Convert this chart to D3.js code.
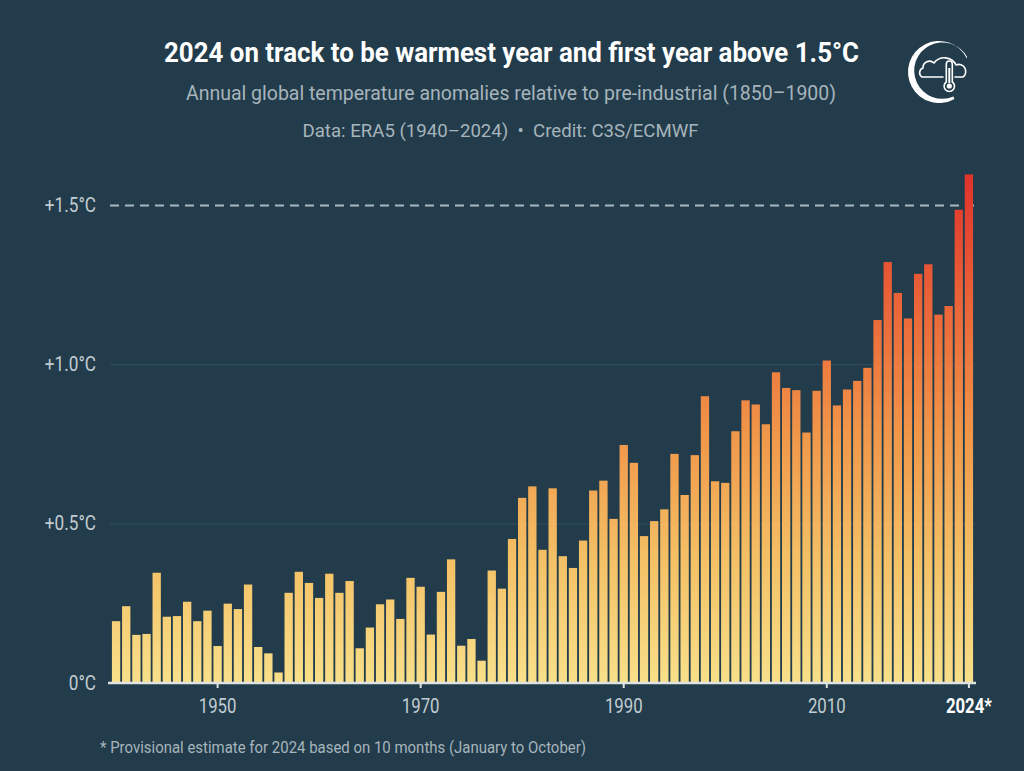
<!DOCTYPE html>
<html>
<head>
<meta charset="utf-8">
<script src="https://cdn.jsdelivr.net/npm/d3@7"></script>
<style>
  html, body { margin: 0; padding: 0; background: #223c4b; }
  svg { display: block; }
  text { font-family: Roboto, "Noto Sans", sans-serif; }
</style>
</head>
<body>
<svg id="chart" width="1024" height="771"></svg>
<script>
// ---- data ----
const years = d3.range(1940, 2025);
const anomalies = [
  0.194, 0.241, 0.151, 0.154, 0.346, 0.208, 0.210, 0.255, 0.194, 0.227,
  0.116, 0.249, 0.232, 0.309, 0.113, 0.093, 0.033, 0.283, 0.349, 0.314,
  0.267, 0.343, 0.283, 0.320, 0.109, 0.174, 0.247, 0.262, 0.201, 0.330,
  0.302, 0.152, 0.286, 0.388, 0.117, 0.138, 0.070, 0.353, 0.296, 0.452,
  0.581, 0.617, 0.418, 0.611, 0.398, 0.361, 0.447, 0.604, 0.635, 0.515,
  0.747, 0.691, 0.461, 0.508, 0.545, 0.719, 0.590, 0.715, 0.900, 0.633,
  0.628, 0.790, 0.887, 0.874, 0.812, 0.975, 0.926, 0.919, 0.786, 0.917,
  1.012, 0.871, 0.921, 0.948, 0.989, 1.139, 1.321, 1.224, 1.144, 1.284,
  1.314, 1.156, 1.183, 1.485, 1.596
];
const yTicks = [0, 0.5, 1.0, 1.5];
const yTickLabels = ["0°C", "+0.5°C", "+1.0°C", "+1.5°C"];
const xTicks = [1950, 1970, 1990, 2010, 2024];
const xTickLabels = ["1950", "1970", "1990", "2010", "2024*"];
const thresholdValue = 1.5;
const gradientValues = [0, 0.4, 0.8, 1.2, 1.6];
const gradientColors = ["#f8e08a", "#f4bf64", "#f09448", "#ea6338", "#df312c"];

const title = "2024 on track to be warmest year and first year above 1.5°C";
const subtitle = "Annual global temperature anomalies relative to pre-industrial (1850–1900)";
const credit = "Data: ERA5 (1940–2024)  •  Credit: C3S/ECMWF";
const footnote = "* Provisional estimate for 2024 based on 10 months (January to October)";

// ---- layout ----
const svg = d3.select("#chart");
const W = 1024;
const plot = { left: 111, right: 974, top: 150, bottom: 683 };

const x = d3.scaleBand().domain(years).range([plot.left, plot.right])
  .paddingInner(0.18).paddingOuter(0.09);
const y = d3.scaleLinear().domain([0, 1.5]).range([plot.bottom, 205]);

// condense helpers (mimic a condensed typeface)
function condense(sel, k) {
  sel.each(function() {
    const n = this.getComputedTextLength();
    d3.select(this).attr("textLength", n * k).attr("lengthAdjust", "spacingAndGlyphs");
  });
}
function fitWidth(sel, w) {
  sel.attr("textLength", w).attr("lengthAdjust", "spacingAndGlyphs");
}

// background
svg.append("rect").attr("width", W).attr("height", 771).attr("fill", "#223c4b");

// titles
svg.append("text").attr("x", 511.5).attr("y", 62).attr("text-anchor", "middle")
  .attr("fill", "#ffffff").attr("font-size", 28).attr("font-weight", 700)
  .text(title).call(fitWidth, 695);
svg.append("text").attr("x", 511).attr("y", 100).attr("text-anchor", "middle")
  .attr("fill", "#a7b4bc").attr("font-size", 21)
  .text(subtitle).call(fitWidth, 650);
svg.append("text").attr("x", 500.5).attr("y", 137).attr("text-anchor", "middle")
  .attr("fill", "#a7b4bc").attr("font-size", 18.5)
  .attr("xml:space", "preserve")
  .text(credit).call(fitWidth, 396);

// gradient (shared in user space so colour depends on height)
const defs = svg.append("defs");
const grad = defs.append("linearGradient").attr("id", "barGrad")
  .attr("gradientUnits", "userSpaceOnUse")
  .attr("x1", 0).attr("x2", 0)
  .attr("y1", y(gradientValues[0])).attr("y2", y(gradientValues[gradientValues.length - 1]));
gradientValues.forEach((v, i) => {
  grad.append("stop")
    .attr("offset", (v - gradientValues[0]) / (gradientValues[gradientValues.length - 1] - gradientValues[0]))
    .attr("stop-color", gradientColors[i]);
});

// y gridlines + labels
const yAxis = d3.axisLeft(y).tickValues(yTicks)
  .tickSize(-(plot.right - plot.left + 2))
  .tickFormat((d, i) => yTickLabels[i]).tickPadding(12);
const gy = svg.append("g").attr("transform", `translate(${plot.left - 1},0)`).call(yAxis);
gy.select(".domain").remove();
gy.selectAll(".tick line")
  .attr("stroke", d => d === thresholdValue ? "#a9b8c2" : "#335060")
  .attr("stroke-width", d => d === thresholdValue ? 2 : 1)
  .attr("stroke-dasharray", d => d === thresholdValue ? "9,6" : null)
  .attr("opacity", d => d === 0 ? 0 : 1);
gy.selectAll(".tick text").attr("fill", "#c3ccd2").attr("font-size", 19.5)
  .attr("font-family", "Roboto, sans-serif").attr("x", -14)
  .call(condense, 0.88);

// bars
svg.append("g").selectAll("rect").data(years).join("rect")
  .attr("x", d => x(d))
  .attr("width", x.bandwidth())
  .attr("y", (d, i) => y(anomalies[i]))
  .attr("height", (d, i) => y(0) - y(anomalies[i]))
  .attr("fill", "url(#barGrad)");

// x axis
const xAxis = d3.axisBottom(x).tickValues(xTicks)
  .tickSize(5).tickPadding(11)
  .tickFormat(d => xTickLabels[xTicks.indexOf(d)]);
const gx = svg.append("g").attr("transform", `translate(0,${plot.bottom})`).call(xAxis);
gx.select(".domain").attr("stroke", "#dfe3df").attr("stroke-width", 2.5)
  .attr("d", `M${plot.left - 3},0H${plot.right + 2}`);
gx.selectAll(".tick line").attr("stroke", "#dfe3df").attr("stroke-width", 2);
gx.selectAll(".tick text")
  .attr("fill", d => d === 2024 ? "#ffffff" : "#c3ccd2")
  .attr("font-weight", d => d === 2024 ? 700 : 400)
  .attr("font-size", 19.5).attr("font-family", "Roboto, sans-serif")
  .call(condense, 0.86);

// footnote
svg.append("text").attr("x", 100).attr("y", 753)
  .attr("fill", "#a7b4bc").attr("font-size", 16.5)
  .text(footnote).call(fitWidth, 486);

// logo
const logo = svg.append("g").attr("transform", "translate(939,72)")
  .attr("fill", "none").attr("stroke", "#ffffff");
function crescentPath(r, a0, a1, shiftX, shiftY, r2) {
  const p = d3.path();
  p.arc(0, 0, r, a0, a1, true);
  p.arc(shiftX, shiftY, r2, a1 + 0.12, a0 - 0.05, false);
  p.closePath();
  return p.toString();
}
logo.append("path")
  .attr("d", crescentPath(31, -0.45, 1.05, 3.4, -1.4, 28.2))
  .attr("fill", "#ffffff").attr("stroke", "none");
// cloud outline
logo.append("path")
  .attr("d", "M16,5 H24 A7,7 0 0 0 17,-7 A13,13 0 0 0 -5,-9 A6.5,6.5 0 0 0 -16,-4 A5,5 0 0 0 -17,5 H4")
  .attr("stroke-width", 1.6).attr("stroke-linecap", "round").attr("stroke-linejoin", "round");
// thermometer
logo.append("path")
  .attr("d", "M7.3,-8 V10 A5.2,5.2 0 1 0 13.3,10 V-8 A3,3 0 0 0 7.3,-8 Z")
  .attr("fill", "#223c4b").attr("stroke-width", 1.6);
logo.append("line").attr("x1", 10.3).attr("x2", 10.3).attr("y1", -4).attr("y2", 11)
  .attr("stroke-width", 2);
logo.append("circle").attr("cx", 10.3).attr("cy", 14).attr("r", 2.6)
  .attr("fill", "#ffffff").attr("stroke", "none");
</script>
</body>
</html>
